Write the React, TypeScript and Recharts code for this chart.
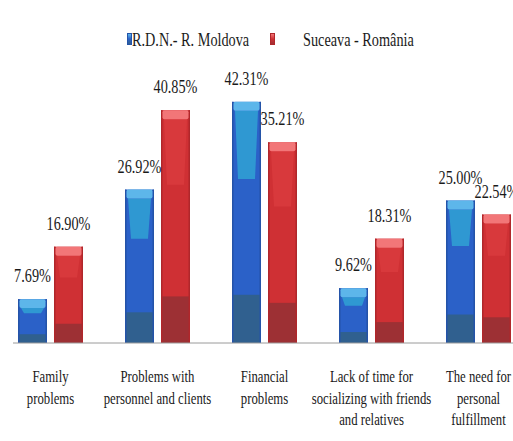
import { BarChart, Bar, XAxis, YAxis, Legend, LabelList } from 'recharts';

const categories = [
  'Family\nproblems',
  'Problems with\npersonnel and clients',
  'Financial\nproblems',
  'Lack of time for\nsocializing with friends\nand relatives',
  'The need for\npersonal\nfulfillment',
];
const moldova = [7.69, 26.92, 42.31, 9.62, 25.0];
const suceava = [16.9, 40.85, 35.21, 18.31, 22.54];
const seriesNames = ['R.D.N.- R. Moldova', 'Suceava - România'];

const chartData = categories.map((name, i) => ({
  name,
  moldova: moldova[i],
  suceava: suceava[i],
}));

const SQUEEZE = 0.75;
const FONT = "'Liberation Serif', 'DejaVu Serif', serif";

const palettes = {
  blue: { main: '#2b61c8', edge: '#2453a8', inner: '#2f98d2', cap: '#5db6ea', base: '#30608f' },
  red: { main: '#cf3034', edge: '#b0272b', inner: '#d8393c', cap: '#f27678', base: '#9d3034' },
};

const makeBar = (p: typeof palettes.blue) => (props: any) => {
  const { x, y, width, height } = props;
  if (!height || height <= 0) return <g />;
  const capH = Math.min(9, height * 0.2);
  const innerBottom = y + height * 0.32;
  const baseTop = y + height * 0.8;
  return (
    <g>
      <rect x={x} y={y} width={width} height={height} fill={p.main} />
      <polygon
        points={`${x + 3},${y + capH} ${x + width - 3},${y + capH} ${x + width - 6},${innerBottom} ${x + 6},${innerBottom}`}
        fill={p.inner}
      />
      <rect x={x} y={baseTop} width={width} height={y + height - baseTop} fill={p.base} />
      <rect x={x} y={y} width={1.5} height={height} fill={p.edge} />
      <rect x={x + width - 1.5} y={y} width={1.5} height={height} fill={p.edge} />
      <rect x={x + 1.5} y={y} width={width - 3} height={capH} rx={2} fill={p.cap} />
    </g>
  );
};

const renderValue = (props: any) => {
  const { x, y, width, value } = props;
  const cx = x + width / 2;
  return (
    <text
      transform={`translate(${cx},${y - 17}) scale(${SQUEEZE},1)`}
      textAnchor="middle"
      style={{ fontFamily: FONT, fontSize: 19 }}
      fill="#1a1a1a"
    >
      {value.toFixed(2)}%
    </text>
  );
};

const renderTick = (props: any) => {
  const { x, y, payload } = props;
  const lines = String(payload.value).split('\n');
  return (
    <g transform={`translate(${x},${y})`}>
      {lines.map((line, i) => (
        <text
          key={i}
          transform={`translate(0,${31 + i * 21.5}) scale(${SQUEEZE},1)`}
          textAnchor="middle"
          style={{ fontFamily: FONT, fontSize: 17 }}
          fill="#1a1a1a"
        >
          {line}
        </text>
      ))}
    </g>
  );
};

const Marker = ({ colors }: { colors: typeof palettes.blue }) => (
  <div
    style={{
      position: 'absolute',
      top: 0,
      width: 5,
      height: 12,
      background: `linear-gradient(${colors.cap}, ${colors.main} 50%, ${colors.base})`,
      border: `1px solid ${colors.edge}`,
      boxSizing: 'border-box',
    }}
  />
);

const legendText = (left: number, text: string) => (
  <div
    style={{
      position: 'absolute',
      left,
      top: -1,
      whiteSpace: 'nowrap',
      transform: `scaleX(${SQUEEZE})`,
      transformOrigin: 'left',
    }}
  >
    {text}
  </div>
);

const renderLegend = () => (
  <div style={{ position: 'relative', width: 513, height: 24, fontFamily: FONT, fontSize: 19, color: '#1a1a1a' }}>
    <div style={{ position: 'absolute', left: 127, top: 3 }}>
      <Marker colors={palettes.blue} />
    </div>
    {legendText(132, seriesNames[0])}
    <div style={{ position: 'absolute', left: 270, top: 3 }}>
      <Marker colors={palettes.red} />
    </div>
    {legendText(303, seriesNames[1])}
  </div>
);

export default function App() {
  return (
    <div style={{ position: 'absolute', left: 0, top: 0, width: 513, height: 441, overflow: 'hidden', background: '#fff' }}>
      <BarChart
        width={540}
        height={441}
        data={chartData}
        margin={{ top: 58, right: 8, left: 13, bottom: 0 }}
        barSize={29}
        barGap={7}
      >
        <XAxis
          dataKey="name"
          interval={0}
          height={98}
          tickLine={false}
          axisLine={{ stroke: '#9a9a9a' }}
          tick={renderTick}
          padding={{ left: -16, right: 0 }}
        />
        <YAxis hide domain={[0, 50]} />
        <Legend verticalAlign="middle" align="center" content={renderLegend} wrapperStyle={{ top: 30, left: 0 }} />
        <Bar dataKey="moldova" name={seriesNames[0]} shape={makeBar(palettes.blue)} isAnimationActive={false}>
          <LabelList dataKey="moldova" content={renderValue} />
        </Bar>
        <Bar dataKey="suceava" name={seriesNames[1]} shape={makeBar(palettes.red)} isAnimationActive={false}>
          <LabelList dataKey="suceava" content={renderValue} />
        </Bar>
      </BarChart>
    </div>
  );
}
